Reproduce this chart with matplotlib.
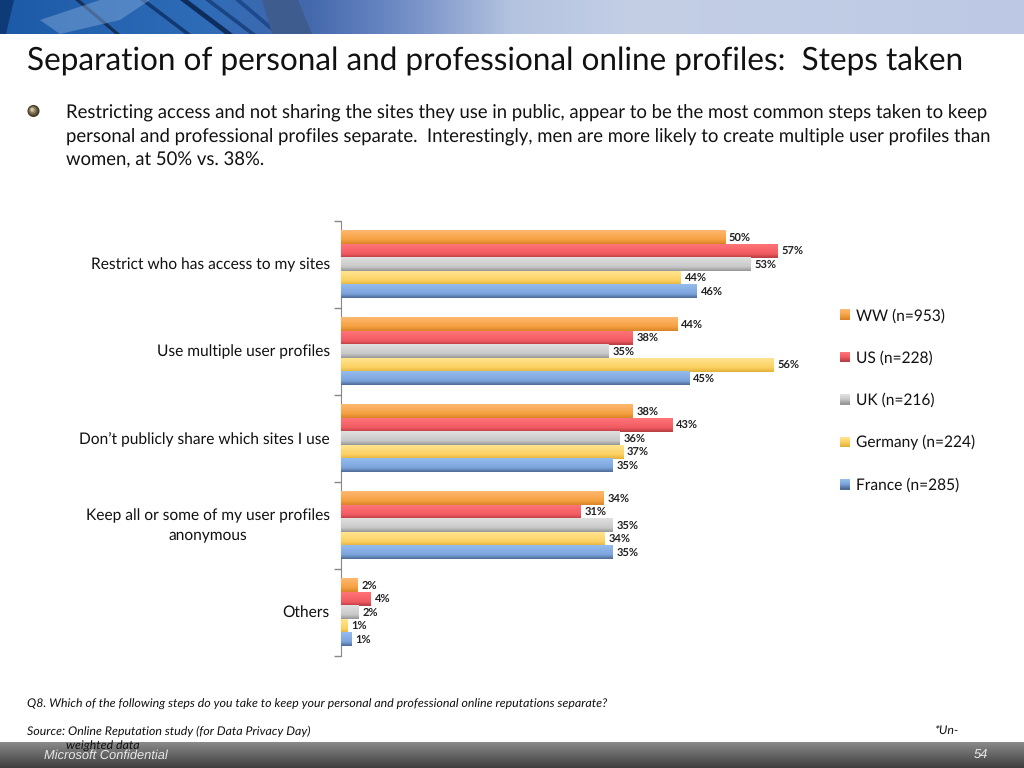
import matplotlib
matplotlib.use('Agg')
import matplotlib.pyplot as plt
from matplotlib.colors import LinearSegmentedColormap
from matplotlib.legend_handler import HandlerBase
from matplotlib.patches import Polygon, Patch, Rectangle
import numpy as np

plt.rcParams['font.family'] = ['Lato', 'DejaVu Sans']
plt.rcParams['text.hinting'] = 'no_hinting'

categories = ["Restrict who has access to my sites", "Use multiple user profiles",
              "Don\u2019t publicly share which sites I use",
              "Keep all or some of my user profiles\nanonymous", "Others"]
series = ["WW (n=953)", "US (n=228)", "UK (n=216)", "Germany (n=224)", "France (n=285)"]
ww = [50.1, 43.9, 38.0, 34.3, 2.2]
us = [56.9, 38.0, 43.2, 31.3, 3.9]
uk = [53.4, 34.9, 36.3, 35.4, 2.3]
germany = [44.3, 56.4, 36.8, 34.4, 0.9]
france = [46.4, 45.4, 35.4, 35.4, 1.4]
title = "Separation of personal and professional online profiles:  Steps taken"
body = ["Restricting access and not sharing the sites they use in public, appear to be the most common steps taken to keep",
        "personal and professional profiles separate.  Interestingly, men are more likely to create multiple user profiles than",
        "women, at 50% vs. 38%."]

values = [ww, us, uk, germany, france]
shades = [("#ffb870", "#f4a040", "#d88428"), ("#ff7478", "#f05a60", "#b83c44"),
          ("#e0e0e0", "#c8c8c8", "#989898"), ("#ffe490", "#fbd060", "#e0b038"),
          ("#94bcee", "#7ca4dc", "#4e6c98")]
W, H = 1024, 768

fig = plt.figure(figsize=(W / 100, H / 100), dpi=100)

# page furniture, in pixel coordinates
bg = fig.add_axes([0, 0, 1, 1])
bg.set_xlim(0, W)
bg.set_ylim(H, 0)
bg.axis('off')
stops = [(0.0, "#1c5aa8"), (0.2, "#2f6cb8"), (0.3, "#4468ac"), (0.37, "#6482c0"),
         (0.5, "#b4c3e0"), (0.62, "#c4cfe6"), (1.0, "#bdc9e4")]
header_cm = LinearSegmentedColormap.from_list("hdr", stops)
bg.imshow(np.linspace(0, 1, 512).reshape(1, -1), cmap=header_cm, extent=(0, W, 34, 0), aspect='auto')
streaks = [(75, 115, 5, "#16305c"), (140, 185, 6, "#123a72"), (180, 225, 8, "#0e2c5c"),
           (205, 250, 6, "#1a4482"), (235, 275, 6, "#1c4a8c")]
for x0, x1, w, c in streaks:
    bg.add_patch(Polygon([(x0, 0), (x0 + w, 0), (x1 + w, 34), (x1, 34)], color=c, lw=0))
bg.add_patch(Polygon([(262, 0), (298, 0), (312, 34), (272, 34)], color="#3f5c8e", lw=0))
bg.add_patch(Polygon([(100, 0), (150, 0), (120, 20), (60, 34), (40, 20)], color="#7ea6d6", alpha=0.5, lw=0))
bg.add_patch(Polygon([(0, 0), (14, 0), (6, 34), (0, 34)], color="#0e3a78", lw=0))
bg.imshow(np.linspace(0, 1, 64).reshape(-1, 1), cmap=LinearSegmentedColormap.from_list("ftr", ["#8a8a8a", "#3e3e3e"]),
          extent=(0, W, 768, 742), aspect='auto')
bg.set_xlim(0, W)
bg.set_ylim(H, 0)
# bullet
for r, c in [(6, "#3a3424"), (5, "#5f5438"), (3.6, "#8c7f5c"), (2.2, "#b8ad8c"), (1, "#e4dfcc")]:
    off = (6 - r) * 0.3
    bg.add_patch(plt.Circle((33.5 - off, 111 - off), r, color=c, lw=0))


def put(x, y, s, **kw):
    return fig.text(x / W, 1 - y / H, s, va='center', **kw)


put(27, 61, title, fontsize=22.7, color="#111111")
for i, line in enumerate(body):
    put(66, 112 + i * 24, line, fontsize=13.33, color="#111111")
put(27, 704, "Q8. Which of the following steps do you take to keep your personal and professional online reputations separate?",
    fontsize=8.93, style='italic', color="#111111")
put(27, 731, "Source: Online Reputation study (for Data Privacy Day)", fontsize=8.93, style='italic', color="#111111")
put(935, 731, "*Un-", fontsize=8.93, style='italic', color="#111111")
put(66, 746, "weighted data", fontsize=8.93, style='italic', color="#111111")
put(44, 755.5, "Microsoft Confidential", fontsize=9.25, style='italic', color="#e8e8e8", family='Liberation Sans')
put(974, 755.5, "54", fontsize=9.25, style='italic', color="#e8e8e8", family='Liberation Sans')

# chart
ax = fig.add_axes([341 / W, 1 - 656 / H, 460 / W, 435 / H])
ax.patch.set_alpha(0)
n = len(series)
bar_h = 0.154
y = np.arange(len(categories))
for i, (vals, name, shade) in enumerate(zip(values, series, shades)):
    pos = y + (i - (n - 1) / 2) * bar_h
    bars = ax.barh(pos, vals, height=bar_h, color=shade[1], label=name, linewidth=0)
    cm = LinearSegmentedColormap.from_list("b%d" % i, [(0, shade[0]), (0.7, shade[1]), (1, shade[2])])
    for b, v in zip(bars, vals):
        ax.imshow(np.linspace(0, 1, 32).reshape(-1, 1), cmap=cm, aspect='auto', zorder=3,
                  extent=(0, v, b.get_y() + b.get_height(), b.get_y()))
        ax.text(v + 0.5, b.get_y() + bar_h / 2, "%d%%" % round(v), va='center', ha='left',
                fontsize=8, fontweight='bold', color="#222222", zorder=4)

ax.set_xlim(0, 60)
ax.set_ylim(len(categories) - 0.5, -0.5)
ax.set_yticks(np.arange(len(categories) + 1) - 0.5)
ax.set_yticklabels([])
ax.set_yticks(y, categories, minor=True, multialignment='center', linespacing=1.5, va='center')
ax.tick_params(axis='y', which='major', length=5, width=1, color="#888888")
ax.tick_params(axis='y', which='minor', length=0, pad=8, labelsize=11.2, labelcolor="#111111")
ax.xaxis.set_major_locator(plt.NullLocator())
for s in ["top", "right", "bottom"]:
    ax.spines[s].set_visible(False)
ax.spines["left"].set_color("#888888")


class GradientSwatch(HandlerBase):
    def create_artists(self, legend, orig, xd, yd, width, height, fontsize, trans):
        cm = LinearSegmentedColormap.from_list("s", orig.shade)
        steps = 10
        return [Rectangle((-xd, -yd + height * (1 - (k + 1) / steps)), width, height / steps + 0.2,
                          facecolor=cm(k / (steps - 1)), linewidth=0, transform=trans)
                for k in range(steps)]


handles = []
for shade in shades:
    h = Patch()
    h.shade = shade
    handles.append(h)
fig.legend(handles, series, handler_map={Patch: GradientSwatch()}, loc='center left',
           bbox_to_anchor=(826 / W, 1 - 400.5 / H), frameon=False, fontsize=11.2, labelspacing=1.77,
           handlelength=0.65, handleheight=0.65, handletextpad=0.38, labelcolor="#111111")

plt.savefig("out.png", dpi=100)
